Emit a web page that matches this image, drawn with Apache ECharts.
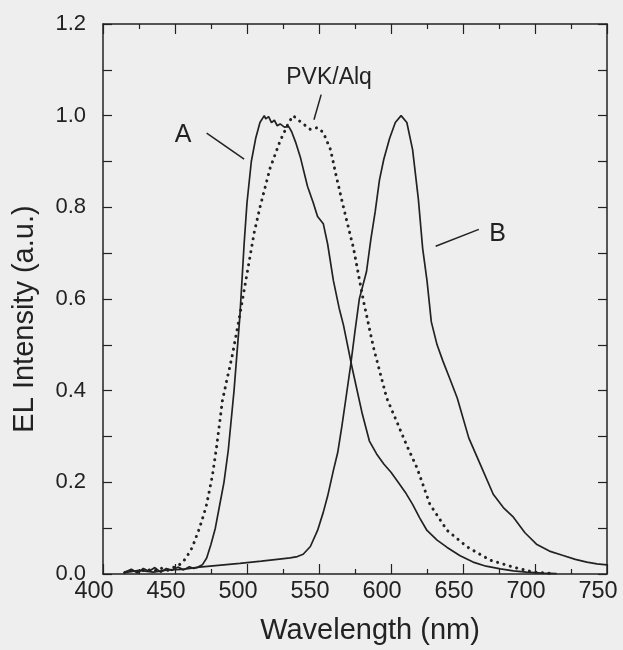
<!DOCTYPE html>
<html>
<head>
<meta charset="utf-8">
<script src="https://cdn.jsdelivr.net/npm/echarts@6/dist/echarts.min.js"></script>
<style>
html,body{margin:0;padding:0;background:#eeeeee;}
#c{width:623px;height:650px;}
</style>
</head>
<body>
<div id="c"></div>
<script>
// ---- data ----
var xTicks = [400, 450, 500, 550, 600, 650, 700, 750];
var yTicks = [0.0, 0.2, 0.4, 0.6, 0.8, 1.0, 1.2];

var wlA = [415,420,424,428,432,436,440,444,448,452,456,460,463,466,469,472,475,478,481,484,487,491,495,498,500,503,506,509,512,513,515,517,519,521,523,526,529,531,534,537,542,546,549,553,556,560,564,567,573,580,585,590,595,600,605,610,615,620,625,632,639,648,657,666,676,685,694,705,715];
var intA = [0.004,0.01,0.002,0.012,0.006,0.014,0.004,0.012,0.008,0.015,0.009,0.016,0.012,0.015,0.02,0.035,0.065,0.1,0.15,0.2,0.27,0.4,0.56,0.72,0.81,0.9,0.95,0.985,1.0,0.993,0.998,0.985,0.99,0.978,0.982,0.975,0.976,0.965,0.94,0.91,0.846,0.81,0.78,0.764,0.72,0.64,0.58,0.543,0.45,0.35,0.29,0.262,0.24,0.222,0.2,0.178,0.152,0.122,0.095,0.074,0.058,0.04,0.026,0.017,0.011,0.007,0.004,0.002,0.001];

var wlPVK = [415,420,425,430,435,440,445,450,453,456,459,462,464,467,470,472,476,479,483,490,495,500,505,509,516,523,529,532,537,544,549,553,558,562,567,574,581,588,597,605,611,618,627,639,653,669,685,699,712];
var intPVK = [0.003,0.009,0.004,0.011,0.006,0.013,0.008,0.016,0.02,0.028,0.042,0.058,0.075,0.1,0.13,0.152,0.215,0.28,0.38,0.48,0.565,0.655,0.745,0.8,0.885,0.945,0.985,1.0,0.987,0.97,0.974,0.963,0.926,0.868,0.8,0.71,0.594,0.492,0.384,0.325,0.28,0.232,0.152,0.095,0.059,0.03,0.015,0.004,0.001];

var wlB = [415,425,435,445,455,467,480,495,510,524,530,535,539,544,549,553,556,560,563,566,569,572,575,578,583,586,589,592,595,599,603,607,611,615,619,622,625,628,632,636,641,646,654,662,671,678,685,693,701,710,719,728,736,743,750];
var intB = [0.003,0.008,0.004,0.009,0.01,0.015,0.019,0.023,0.028,0.033,0.035,0.038,0.043,0.06,0.095,0.135,0.17,0.226,0.265,0.325,0.39,0.456,0.53,0.6,0.66,0.73,0.79,0.86,0.905,0.95,0.985,1.0,0.985,0.926,0.818,0.71,0.64,0.55,0.5,0.465,0.425,0.384,0.297,0.239,0.174,0.145,0.124,0.09,0.065,0.05,0.041,0.032,0.026,0.022,0.02];

// annotation labels and pointers, in data coordinates [wavelength, intensity]
var annLabels = [
  {text: 'A', at: [455.6, 0.957], size: 25},
  {text: 'PVK/Alq', at: [557, 1.082], size: 23},
  {text: 'B', at: [674, 0.742], size: 25}
];
var annPointers = [
  [[472, 0.962], [498, 0.905]],
  [[551.5, 1.046], [546.5, 0.991]],
  [[661, 0.752], [631, 0.715]]
];

function pairs(xs, ys){ return xs.map(function(x, i){ return [x, ys[i]]; }); }

var ink = '#222222';
var font = 'Liberation Sans, Arial, sans-serif';

var chart = echarts.init(document.getElementById('c'), null, {renderer: 'canvas'});

var xBase = {
  type: 'value', min: xTicks[0], max: xTicks[xTicks.length - 1], interval: 50,
  axisLine: {show: true, onZero: false, lineStyle: {color: ink, width: 1.5}},
  axisTick: {show: true, inside: true, length: 10, lineStyle: {color: ink, width: 1.2}},
  minorTick: {show: true, splitNumber: 2, length: 5, lineStyle: {color: ink, width: 1.2}},
  splitLine: {show: false}, minorSplitLine: {show: false}
};
var yBase = {
  type: 'value', min: yTicks[0], max: yTicks[yTicks.length - 1], interval: 0.2,
  axisLine: {show: true, onZero: false, lineStyle: {color: ink, width: 1.5}},
  axisTick: {show: true, inside: true, length: 9, lineStyle: {color: ink, width: 1.2}},
  minorTick: {show: true, splitNumber: 2, length: 9, lineStyle: {color: ink, width: 1.2}},
  splitLine: {show: false}, minorSplitLine: {show: false}
};

var option = {
  backgroundColor: '#eeeeee',
  animation: false,
  grid: {left: 103, right: 16, top: 24, bottom: 73},
  xAxis: [
    Object.assign({}, xBase, {
      position: 'bottom',
      name: 'Wavelength (nm)', nameLocation: 'middle', nameGap: 42,
      nameTextStyle: {fontFamily: font, fontSize: 29, color: ink, padding: [0, 0, 0, 30]},
      axisLabel: {show: true, margin: 6, fontFamily: font, fontSize: 23.5, color: ink,
        padding: [0, 18, 0, 0],
        formatter: function(v){ return xTicks.indexOf(v) >= 0 ? String(v) : ''; }}
    }),
    Object.assign({}, xBase, {position: 'top', axisLabel: {show: false}})
  ],
  yAxis: [
    Object.assign({}, yBase, {
      position: 'left',
      name: 'EL Intensity (a.u.)', nameLocation: 'middle', nameGap: 64, nameRotate: 90,
      nameTextStyle: {fontFamily: font, fontSize: 29, color: ink, padding: [0, 40, 0, 0]},
      axisLabel: {show: true, margin: 17, fontFamily: font, fontSize: 22, color: ink,
        formatter: function(v){ return v.toFixed(1); }}
    }),
    Object.assign({}, yBase, {position: 'right', axisLabel: {show: false}})
  ],
  series: [
    {name: 'A', type: 'line', data: pairs(wlA, intA), showSymbol: false, symbol: 'none',
      lineStyle: {color: ink, width: 1.7}},
    {name: 'PVK/Alq', type: 'line', data: pairs(wlPVK, intPVK), showSymbol: false, symbol: 'none',
      lineStyle: {color: ink, width: 3, type: [0.1, 6.5], cap: 'round'}},
    {name: 'B', type: 'line', data: pairs(wlB, intB), showSymbol: false, symbol: 'none',
      lineStyle: {color: ink, width: 1.7}}
  ]
};
chart.setOption(option);

var g = [];
annLabels.forEach(function(a){
  var p = chart.convertToPixel({xAxisIndex: 0, yAxisIndex: 0}, a.at);
  g.push({type: 'text', x: p[0], y: p[1],
    style: {text: a.text, fontFamily: font, fontSize: a.size, fill: ink, align: 'center', verticalAlign: 'middle'}});
});
annPointers.forEach(function(seg){
  var p1 = chart.convertToPixel({xAxisIndex: 0, yAxisIndex: 0}, seg[0]);
  var p2 = chart.convertToPixel({xAxisIndex: 0, yAxisIndex: 0}, seg[1]);
  g.push({type: 'line', shape: {x1: p1[0], y1: p1[1], x2: p2[0], y2: p2[1]},
    style: {stroke: ink, lineWidth: 1.5}});
});
chart.setOption({graphic: g});
</script>
</body>
</html>
